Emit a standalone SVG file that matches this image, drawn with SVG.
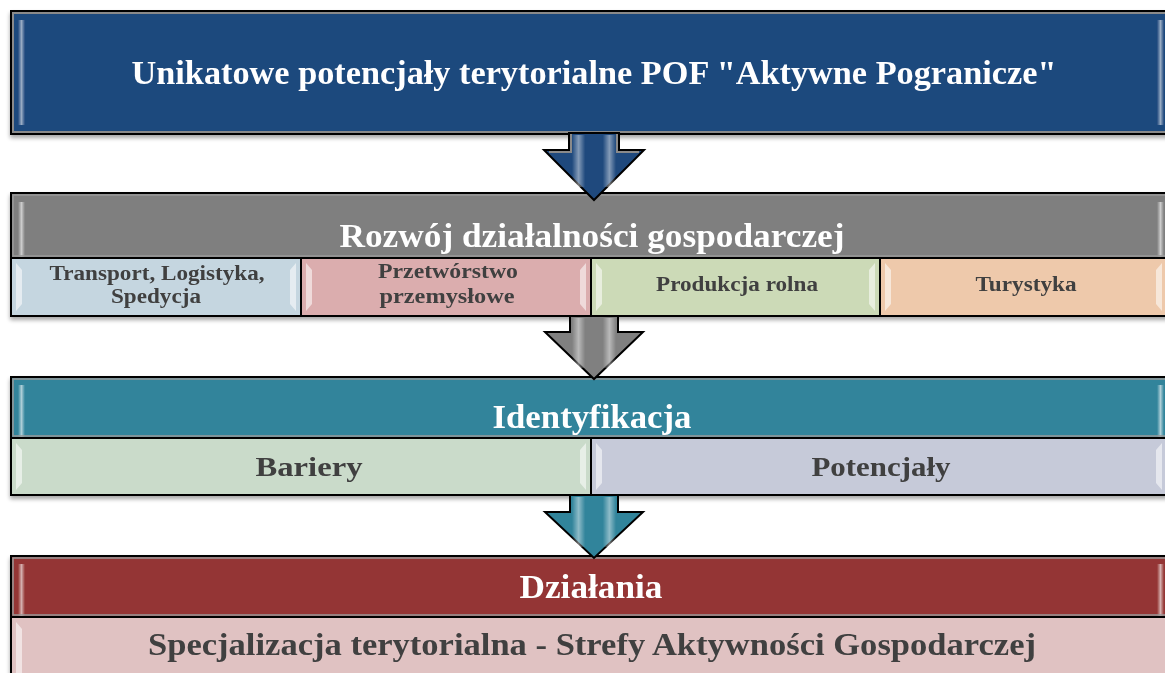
<svg xmlns="http://www.w3.org/2000/svg" width="1165" height="673" viewBox="0 0 1165 673">
<defs>
<style>
.frame{fill:none;stroke:#000;stroke-width:2}
.inner{fill:none;stroke:#8a8a8a;stroke-width:2}
.div{stroke:#000;stroke-width:2}
.hd{font-family:"Liberation Serif","DejaVu Serif",serif;font-weight:bold;fill:#fff;text-anchor:middle}
.sb{font-family:"Liberation Serif","DejaVu Serif",serif;font-weight:bold;fill:#404040;text-anchor:middle}
.bev{fill:#fff;opacity:0.55}
.arrow{stroke:#000;stroke-width:2;stroke-linejoin:miter}
</style>
<filter id="sh" x="-5%" y="-10%" width="110%" height="130%">
<feGaussianBlur in="SourceAlpha" stdDeviation="2"/>
<feOffset dx="0" dy="3"/>
<feComponentTransfer><feFuncA type="linear" slope="0.35"/></feComponentTransfer>
<feMerge><feMergeNode/><feMergeNode in="SourceGraphic"/></feMerge>
</filter>
<linearGradient id="hl" x1="0" y1="0" x2="1" y2="0">
<stop offset="0" stop-color="#fff" stop-opacity="0"/>
<stop offset="0.5" stop-color="#fff" stop-opacity="0.6"/>
<stop offset="1" stop-color="#fff" stop-opacity="0"/>
</linearGradient>
<linearGradient id="shaft" x1="0" y1="0" x2="1" y2="0">
<stop offset="0" stop-color="#fff" stop-opacity="0"/>
<stop offset="0.15" stop-color="#fff" stop-opacity="0.45"/>
<stop offset="0.3" stop-color="#fff" stop-opacity="0"/>
<stop offset="0.7" stop-color="#fff" stop-opacity="0"/>
<stop offset="0.85" stop-color="#fff" stop-opacity="0.45"/>
<stop offset="1" stop-color="#fff" stop-opacity="0"/>
</linearGradient>
</defs>
<rect width="1165" height="673" fill="#fff"/>

<g id="node-top" filter="url(#sh)">
<rect x="11" y="11" width="1170" height="123" fill="#1F497D"/>
<rect x="18" y="20" width="7" height="105" fill="url(#hl)" opacity="0.9"/>
<rect x="1157" y="20" width="7" height="105" fill="url(#hl)" opacity="0.9"/>
<rect x="13" y="13" width="1166" height="119" class="inner"/>
<rect x="11" y="11" width="1170" height="123" class="frame"/>
<text class="hd" x="594" y="84" font-size="34" textLength="925" lengthAdjust="spacingAndGlyphs">Unikatowe potencjały terytorialne POF "Aktywne Pogranicze"</text>
</g>

<g id="node-rozwoj" filter="url(#sh)">
<rect x="11" y="193" width="1170" height="65" fill="#7F7F7F"/>
<rect x="18" y="202" width="7" height="56" fill="url(#hl)"/>
<rect x="1157" y="202" width="7" height="56" fill="url(#hl)"/>
<text class="hd" x="592" y="247" font-size="34" textLength="505" lengthAdjust="spacingAndGlyphs">Rozwój działalności gospodarczej</text>
<g id="node-transport">
<rect x="11" y="258" width="290" height="58" fill="#C5D6E0"/>
<polygon class="bev" points="16,263 22,270 22,304 16,311"/>
<polygon class="bev" points="296,263 290,270 290,304 296,311"/>
<text class="sb" x="157" y="280" font-size="20" textLength="215" lengthAdjust="spacingAndGlyphs">Transport, Logistyka,</text>
<text class="sb" x="156" y="303" font-size="20" textLength="90" lengthAdjust="spacingAndGlyphs">Spedycja</text>
</g>
<g id="node-przetworstwo">
<rect x="301" y="258" width="290" height="58" fill="#DBADAE"/>
<polygon class="bev" points="306,263 312,270 312,304 306,311"/>
<polygon class="bev" points="586,263 580,270 580,304 586,311"/>
<text class="sb" x="448" y="278" font-size="20" textLength="140" lengthAdjust="spacingAndGlyphs">Przetwórstwo</text>
<text class="sb" x="447" y="303" font-size="20" textLength="135" lengthAdjust="spacingAndGlyphs">przemysłowe</text>
</g>
<g id="node-produkcja">
<rect x="591" y="258" width="289" height="58" fill="#CCDAB7"/>
<polygon class="bev" points="596,263 602,270 602,304 596,311"/>
<polygon class="bev" points="875,263 869,270 869,304 875,311"/>
<text class="sb" x="737" y="291" font-size="20" textLength="162" lengthAdjust="spacingAndGlyphs">Produkcja rolna</text>
</g>
<g id="node-turystyka">
<rect x="880" y="258" width="301" height="58" fill="#EEC9AB"/>
<polygon class="bev" points="885,263 891,270 891,304 885,311"/>
<polygon class="bev" points="1162,263 1156,270 1156,304 1162,311"/>
<text class="sb" x="1026" y="291" font-size="20" textLength="101" lengthAdjust="spacingAndGlyphs">Turystyka</text>
</g>
<line class="div" x1="11" y1="258" x2="1181" y2="258"/>
<line class="div" x1="301" y1="258" x2="301" y2="316"/>
<line class="div" x1="591" y1="258" x2="591" y2="316"/>
<line class="div" x1="880" y1="258" x2="880" y2="316"/>
<rect x="13" y="195" width="1166" height="61" fill="none" stroke="#999" stroke-width="1.5"/>
<rect x="11" y="193" width="1170" height="123" class="frame"/>
</g>

<g id="node-identyfikacja" filter="url(#sh)">
<rect x="11" y="377" width="1170" height="61" fill="#31849B"/>
<rect x="18" y="385" width="7" height="53" fill="url(#hl)"/>
<rect x="1157" y="385" width="7" height="53" fill="url(#hl)"/>
<text class="hd" x="592" y="428" font-size="34" textLength="199" lengthAdjust="spacingAndGlyphs">Identyfikacja</text>
<g id="node-bariery">
<rect x="11" y="438" width="580" height="57" fill="#CADBCA"/>
<polygon class="bev" points="16,443 22,450 22,483 16,490"/>
<polygon class="bev" points="586,443 580,450 580,483 586,490"/>
<text class="sb" x="309" y="476" font-size="28" textLength="107" lengthAdjust="spacingAndGlyphs">Bariery</text>
</g>
<g id="node-potencjaly">
<rect x="591" y="438" width="590" height="57" fill="#C6CAD9"/>
<polygon class="bev" points="596,443 602,450 602,483 596,490"/>
<polygon class="bev" points="1162,443 1156,450 1156,483 1162,490"/>
<text class="sb" x="881" y="476" font-size="28" textLength="139" lengthAdjust="spacingAndGlyphs">Potencjały</text>
</g>
<line class="div" x1="11" y1="438" x2="1181" y2="438"/>
<line class="div" x1="591" y1="438" x2="591" y2="495"/>
<rect x="13" y="379" width="1166" height="57" fill="none" stroke="#999" stroke-width="1.5"/>
<rect x="11" y="377" width="1170" height="118" class="frame"/>
</g>

<g id="node-dzialania" filter="url(#sh)">
<rect x="11" y="556" width="1170" height="61" fill="#943634"/>
<rect x="18" y="564" width="7" height="53" fill="url(#hl)"/>
<rect x="1157" y="564" width="7" height="53" fill="url(#hl)"/>
<text class="hd" x="591" y="598" font-size="34" textLength="143" lengthAdjust="spacingAndGlyphs">Działania</text>
<g id="node-specjalizacja">
<rect x="11" y="617" width="1170" height="62" fill="#E0C2C2"/>
<polygon class="bev" points="16,622 22,629 22,673 16,673"/>
<text class="sb" x="592" y="655" font-size="31" textLength="888" lengthAdjust="spacingAndGlyphs">Specjalizacja terytorialna - Strefy Aktywności Gospodarczej</text>
</g>
<line class="div" x1="11" y1="617" x2="1181" y2="617"/>
<rect x="13" y="558" width="1166" height="57" fill="none" stroke="#999" stroke-width="1.5"/>
<rect x="11" y="556" width="1170" height="130" class="frame"/>
</g>

<g id="connectors">
<g id="arrow-1">
<polygon class="arrow" fill="#1F497D" points="569,133 619,133 619,150 644,150 594,200 544,150 569,150"/>
<polyline points="571,134 571,152 549,152" fill="none" stroke="#8a8a8a" stroke-width="2"/>
<polyline points="617,134 617,152 639,152" fill="none" stroke="#8a8a8a" stroke-width="2"/>
<rect x="572" y="135" width="44" height="52" fill="url(#shaft)"/>
</g>
<g id="arrow-2">
<polygon class="arrow" fill="#808080" points="570,316 618,316 618,332 643,332 594,379 545,332 570,332"/>
<rect x="572" y="318" width="44" height="50" fill="url(#shaft)"/>
</g>
<g id="arrow-3">
<polygon class="arrow" fill="#31849B" points="570,495 618,495 618,512 643,512 594,558 545,512 570,512"/>
<rect x="572" y="497" width="44" height="50" fill="url(#shaft)"/>
</g>
</g>
</svg>
